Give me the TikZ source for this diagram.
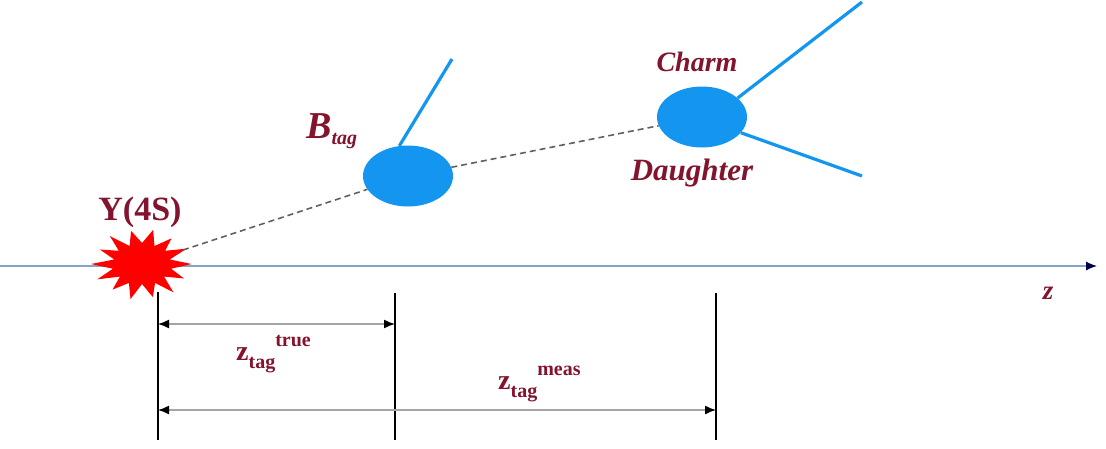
\documentclass[tikz,border=0pt]{standalone}
\usepackage{fontspec}
\setmainfont{Liberation Serif}
\usetikzlibrary{shapes.geometric,arrows.meta}
\definecolor{darkred}{RGB}{130,20,45}
\definecolor{pblue}{RGB}{20,150,240}
\definecolor{axisblue}{RGB}{130,165,200}
\definecolor{dimgray}{RGB}{165,165,165}
\tikzset{
  lab/.style={text=darkred,font=\bfseries\itshape,inner sep=0pt},
  blob/.style={ellipse,fill=pblue,draw=none,minimum width=90pt,minimum height=61pt,inner sep=0pt},
  track/.style={pblue,line width=3.2pt},
  traj/.style={draw=gray!75!black,line width=1.6pt,dash pattern=on 6pt off 4pt},
  vline/.style={black,line width=1.5pt},
  dimline/.style={dimgray,line width=1.4pt,{Latex[length=11pt,width=9pt,black]}-{Latex[length=11pt,width=9pt,black]}},
}
\begin{document}
\begin{tikzpicture}[x=1pt,y=-1pt]
\useasboundingbox (0,0) rectangle (1106,448);
% axis
\coordinate (ax0) at (0,266);
\coordinate (ax1) at (1097,266);
\draw[axisblue,line width=1.1pt,-{Latex[length=11pt,width=9pt,black!70!blue]}] (ax0) -- (ax1);
\node[lab,font=\itshape\bfseries\fontsize{27}{27}\selectfont] (zlab) at (1048,293) {z};
% vertical lines
\coordinate (v1t) at (158,292); \coordinate (v1b) at (158,440);
\coordinate (v2t) at (395,293); \coordinate (v2b) at (395,440);
\coordinate (v3t) at (716,293); \coordinate (v3b) at (716,440);
\draw[vline] (v1t) -- (v1b);
\draw[vline] (v2t) -- (v2b);
\draw[vline] (v3t) -- (v3b);
% star
\fill[red,shift={(142,264)},xscale=1.42]
  (0:35) -- (13:21) -- (26:33) -- (39:20) -- (52:36) -- (64:21) -- (77:34) -- (90:20)
  -- (103:36) -- (116:21) -- (129:33) -- (141:20) -- (154:35) -- (167:21) -- (180:36)
  -- (193:20) -- (206:33) -- (219:21) -- (231:36) -- (244:20) -- (257:34) -- (270:21)
  -- (283:35) -- (296:20) -- (309:33) -- (321:21) -- (334:35) -- (347:20) -- cycle;
\coordinate (star) at (183,250);
\node[text=darkred,font=\bfseries\fontsize{34}{34}\selectfont,inner sep=0pt] (ups) at (140,212) {Y(4S)};
% blobs
\node[blob] (B) at (408,176) {};
\node[blob] (C) at (702,117) {};
\draw[traj] (star) -- (B);
\draw[traj] (B) -- (C);
\coordinate (bt) at (452,59);
\coordinate (c1) at (862,2);
\coordinate (c2) at (862,176);
\draw[track] (B.106) -- (bt);
\draw[track] (C.28) -- (c1);
\draw[track] (C.-22) -- (c2);
% labels
\node[lab,font=\bfseries\itshape\fontsize{38}{38}\selectfont,anchor=base west] (Bl) at (306,138) {B\raisebox{-0.18em}{\fontsize{20}{20}\selectfont tag}};
\node[lab,font=\bfseries\itshape\fontsize{28}{28}\selectfont] (Cl) at (697,62) {Charm};
\node[lab,font=\bfseries\itshape\fontsize{31}{31}\selectfont] (Dl) at (692,173) {Daughter};
% dimension arrows
\coordinate (d1a) at (158,324); \coordinate (d1b) at (395,324);
\coordinate (d2a) at (158,410); \coordinate (d2b) at (716,410);
\draw[dimline] (d1a) -- (d1b);
\draw[dimline] (d2a) -- (d2b);
\node[text=darkred,font=\bfseries\fontsize{28}{28}\selectfont,inner sep=0pt,anchor=base west] (zt) at (236,360) {z\raisebox{-0.3em}{\fontsize{20}{20}\selectfont tag}\raisebox{0.5em}{\fontsize{20}{20}\selectfont true}};
\node[text=darkred,font=\bfseries\fontsize{28}{28}\selectfont,inner sep=0pt,anchor=base west] (zm) at (498,389) {z\raisebox{-0.3em}{\fontsize{20}{20}\selectfont tag}\raisebox{0.5em}{\fontsize{20}{20}\selectfont meas}};
\end{tikzpicture}
\end{document}
